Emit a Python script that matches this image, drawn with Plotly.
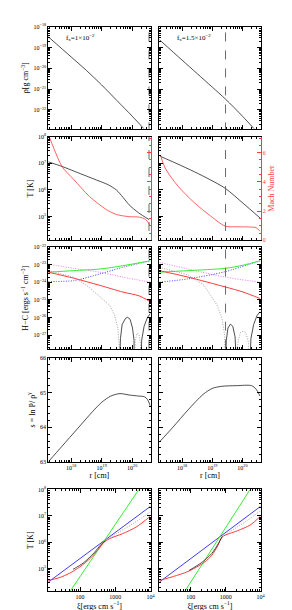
import numpy as np
import plotly.graph_objects as go

# ---------------- DATA (log10 values) ----------------
# Row 1: density vs radius
rho_r_left = [17.25, 18.0, 18.5, 19.0, 19.5, 20.0, 20.38]
rho_left = [-18.48, -19.45, -20.1, -20.8, -21.55, -22.3, -22.9]
rho_r_right = [17.25, 18.0, 18.5, 19.0, 19.44, 20.0, 20.38]
rho_right = [-18.62, -19.6, -20.25, -20.9, -21.48, -22.3, -22.9]

# Row 2: temperature (log10) and Mach number vs radius
T_r_left = [17.25, 17.7, 18.1, 18.5, 18.83, 19.2, 19.48, 19.7, 19.9, 20.2, 20.55]
T_left = [7.05, 6.88, 6.7, 6.52, 6.37, 6.2, 6.0, 5.72, 5.44, 5.15, 4.89]
T_r_right = [17.28, 17.8, 18.41, 18.95, 19.43, 20.02, 20.58]
T_right = [7.26, 7.0, 6.68, 6.37, 6.06, 5.5, 4.95]
mach_r_left = [17.28, 17.43, 17.7, 18.09, 18.6, 19.15, 19.48, 19.9, 20.23, 20.44, 20.6]
mach_left = [7.1, 6.3, 5.05, 4.15, 3.0, 2.11, 1.77, 1.62, 1.59, 1.43, 0.97]
mach_r_right = [17.28, 17.44, 17.87, 18.41, 18.95, 19.43, 19.81, 20.24, 20.45, 20.58]
mach_right = [5.86, 4.95, 3.7, 2.57, 1.66, 0.97, 0.93, 0.91, 0.87, 0.63]

# Row 3: heating / cooling rates (log10)
hc_green_r_left = [17.25, 18.08, 18.94, 19.69, 20.6]
hc_green_left = [-23.42, -23.33, -23.24, -23.05, -22.77]
hc_mag_r_left = [17.25, 18.08, 18.94, 19.69, 20.6]
hc_mag_left = [-22.96, -23.2, -23.42, -23.7, -23.99]
hc_blue_r_left = [17.25, 18.08, 18.94, 19.69, 20.6]
hc_blue_left = [-23.95, -23.9, -23.52, -23.14, -22.77]
hc_red_r_left = [17.25, 18.08, 18.94, 19.69, 20.23, 20.6]
hc_red_left = [-23.42, -23.76, -24.17, -24.55, -24.77, -25.11]
hc_net_r_left = [17.25, 18.08, 18.51, 18.94, 19.26, 19.42, 19.53, 19.58, 19.6]
hc_net_left = [-23.33, -23.7, -24.17, -24.83, -25.3, -25.86, -26.6, -27.7, -29.0]
hc_arch1_r_left = [19.58, 19.615, 19.67, 19.78, 19.85, 19.93, 20.01, 20.06, 20.07]
hc_arch1_left = [-29.0, -27.2, -26.4, -26.05, -25.99, -26.1, -26.6, -27.3, -29.0]
hc_arch2_r_left = [20.07, 20.1, 20.14, 20.19, 20.23, 20.27, 20.28]
hc_arch2_left = [-29.0, -27.4, -26.95, -26.89, -27.0, -27.5, -29.0]
hc_arch3_r_left = [20.28, 20.31, 20.39, 20.5, 20.6]
hc_arch3_left = [-29.0, -27.3, -26.5, -26.0, -25.76]

hc_green_r_right = [17.25, 18.2, 19.43, 20.02, 20.58]
hc_green_right = [-23.42, -23.33, -23.2, -23.02, -22.77]
hc_mag_r_right = [17.25, 18.2, 19.43, 20.58]
hc_mag_right = [-22.86, -23.24, -23.7, -23.99]
hc_blue_r_right = [17.25, 18.2, 19.43, 20.58]
hc_blue_right = [-23.99, -23.8, -23.39, -22.77]
hc_red_r_right = [17.25, 18.2, 19.43, 20.02, 20.58]
hc_red_right = [-23.33, -23.7, -24.26, -24.55, -24.92]
hc_net_r_right = [17.25, 18.2, 18.73, 19.16, 19.32, 19.41, 19.43]
hc_net_right = [-23.14, -23.57, -24.17, -25.3, -26.04, -27.0, -29.0]
hc_arch1_r_right = [19.43, 19.465, 19.52, 19.6, 19.68, 19.755, 19.81]
hc_arch1_right = [-29.0, -27.3, -26.6, -26.38, -26.5, -27.1, -29.0]
hc_arch2_r_right = [19.81, 19.85, 19.935, 20.02, 20.11, 20.195, 20.24]
hc_arch2_right = [-29.0, -27.4, -26.85, -26.79, -26.85, -27.4, -29.0]
hc_arch3_r_right = [20.24, 20.28, 20.37, 20.48, 20.58]
hc_arch3_right = [-29.0, -27.2, -26.4, -25.9, -25.67]

# Row 4: entropy
s_r_left = [17.25, 17.7, 18.2, 18.7, 19.0, 19.3, 19.6, 19.9, 20.2, 20.4, 20.5, 20.6]
s_left = [63.0, 63.45, 63.95, 64.45, 64.72, 64.9, 64.97, 64.93, 64.9, 64.88, 64.8, 64.6]
s_r_right = [17.25, 17.7, 18.2, 18.7, 19.0, 19.3, 19.8, 20.3, 20.45, 20.58]
s_right = [63.57, 64.0, 64.5, 64.95, 65.12, 65.18, 65.2, 65.2, 65.1, 64.9]

# Row 5: T vs ionisation parameter (log10)
xi_red_left = [1.1, 1.4, 1.7, 2.0, 2.3, 2.5, 2.7, 2.9, 3.2, 3.6, 4.0]
Txi_red_left = [4.55, 4.65, 4.82, 5.07, 5.4, 5.7, 6.02, 6.17, 6.32, 6.58, 6.99]
xi_blk_left = [1.8, 2.1, 2.4, 2.6, 2.72]
Txi_blk_left = [4.97, 5.22, 5.6, 5.92, 6.06]
xi_gry_left = [2.72, 3.0, 3.5, 4.0]
Txi_gry_left = [6.06, 6.3, 6.7, 7.15]
xi_blue_left = [1.1, 4.0]
Txi_blue_left = [4.49, 7.36]
xi_green_left = [1.72, 3.67]
Txi_green_left = [4.14, 8.0]

xi_red_right = [1.1, 1.5, 1.92, 2.39, 2.6, 2.77, 2.9, 3.33, 3.7, 4.0]
Txi_red_right = [4.55, 4.7, 4.89, 5.24, 5.5, 5.86, 6.2, 6.43, 6.65, 6.99]
xi_blk_right = [1.95, 2.3, 2.6, 2.8, 2.9]
Txi_blk_right = [4.93, 5.22, 5.57, 5.97, 6.22]
xi_gry_right = [2.9, 3.3, 3.7, 4.0]
Txi_gry_right = [6.22, 6.55, 6.9, 7.2]
xi_blue_right = [1.1, 4.0]
Txi_blue_right = [4.49, 7.36]
xi_green_right = [1.83, 3.70]
Txi_green_right = [4.14, 8.0]

# sonic-point / marker radii (log10 r)
r_dash_left = 20.55
r_dash_right = 19.44

panel_labels = ["f<sub>x</sub>=1×10<sup>−2</sup>", "f<sub>x</sub>=1.5×10<sup>−2</sup>"]

# ---------------- LAYOUT ----------------
W, H = 292, 610
FONT = "Liberation Serif, DejaVu Serif, serif"
xpx = [(41, 145), (154, 257)]
ypx = [(15, 118), (126, 231), (238, 341), (350, 455), (483, 586)]
xdom = [[a / W, b / W] for a, b in xpx]
ydom = [[1 - b / H, 1 - t / H] for t, b in ypx]

r_range = [17.25, 20.6]
xi_range = [1.1, 4.0]
y_ranges = [[-22.9, -18.0], [4.11, 8.0], [-27.8, -22.0], [63, 66], [4.14, 8.0]]

RED = "#ff3b3b"
GREEN = "#33ee33"
BLUE = "#3b3bff"
MAG = "#f070f0"
GRAY = "#8a8a8a"
BLK = "#222222"
LW = 0.8

fig = go.Figure()


def P(v):
    return [10.0 ** t for t in v]


def ax(row, col):
    n = 2 * row + col + 1
    return ("x" if n == 1 else f"x{n}"), ("y" if n == 1 else f"y{n}")


def add(row, col, xs, ys, color, dash="solid", width=LW, logy=True, yaxis=None, smooth=True):
    xa, ya = ax(row, col)
    line = dict(color=color, width=width, dash=dash)
    if smooth:
        line.update(shape="spline", smoothing=0.8)
    fig.add_trace(go.Scatter(
        x=P(xs), y=(P(ys) if logy else ys), mode="lines", line=line,
        xaxis=xa, yaxis=(yaxis or ya), showlegend=False, hoverinfo="skip"))


def vline(row, col, r, yr):
    add(row, col, [r, r], [yr[0] - 1, yr[1] + 1], "#6a6a6a", dash="dash", width=1.0, smooth=False)


# Row 1
add(0, 0, rho_r_left, rho_left, BLK)
add(0, 1, rho_r_right, rho_right, BLK)
vline(0, 0, r_dash_left, y_ranges[0])
vline(0, 1, r_dash_right, y_ranges[0])

# Row 2
add(1, 0, T_r_left, T_left, BLK)
add(1, 1, T_r_right, T_right, BLK)
vline(1, 0, r_dash_left, y_ranges[1])
vline(1, 1, r_dash_right, y_ranges[1])
for xs, ys, xa, ya in [(mach_r_left, mach_left, "x3", "y11"), (mach_r_right, mach_right, "x4", "y12")]:
    fig.add_trace(go.Scatter(x=P(xs), y=ys, mode="lines",
                             line=dict(color=RED, width=LW, shape="spline", smoothing=0.8),
                             xaxis=xa, yaxis=ya, showlegend=False, hoverinfo="skip"))

# Row 3
for col, d in enumerate([
    (hc_green_r_left, hc_green_left, hc_mag_r_left, hc_mag_left, hc_blue_r_left, hc_blue_left,
     hc_red_r_left, hc_red_left, hc_net_r_left, hc_net_left, hc_arch1_r_left, hc_arch1_left,
     hc_arch2_r_left, hc_arch2_left, hc_arch3_r_left, hc_arch3_left),
    (hc_green_r_right, hc_green_right, hc_mag_r_right, hc_mag_right, hc_blue_r_right, hc_blue_right,
     hc_red_r_right, hc_red_right, hc_net_r_right, hc_net_right, hc_arch1_r_right, hc_arch1_right,
     hc_arch2_r_right, hc_arch2_right, hc_arch3_r_right, hc_arch3_right)]):
    add(2, col, d[2], d[3], MAG, dash="1px,1.5px", width=1.0)
    add(2, col, d[4], d[5], BLUE, dash="1px,1.5px", width=1.0)
    add(2, col, d[0], d[1], GREEN, width=1.0)
    add(2, col, d[6], d[7], RED, width=1.0)
    add(2, col, d[8], d[9], GRAY, dash="1px,1.5px", width=0.8, smooth=False)
    add(2, col, d[10], d[11], BLK, width=0.8, smooth=False)
    add(2, col, d[12], d[13], GRAY, dash="1px,1.5px", width=0.8, smooth=False)
    add(2, col, d[14], d[15], BLK, width=0.8, smooth=False)
vline(2, 0, r_dash_left, y_ranges[2])
vline(2, 1, r_dash_right, y_ranges[2])

# Row 4
add(3, 0, s_r_left, s_left, BLK, logy=False)
add(3, 1, s_r_right, s_right, BLK, logy=False)

# Row 5
for col, d in enumerate([
    (xi_blue_left, Txi_blue_left, xi_green_left, Txi_green_left, xi_red_left, Txi_red_left,
     xi_gry_left, Txi_gry_left, xi_blk_left, Txi_blk_left),
    (xi_blue_right, Txi_blue_right, xi_green_right, Txi_green_right, xi_red_right, Txi_red_right,
     xi_gry_right, Txi_gry_right, xi_blk_right, Txi_blk_right)]):
    add(4, col, d[0], d[1], BLUE, width=1.0, smooth=False)
    add(4, col, d[2], d[3], GREEN, width=1.0, smooth=False)
    add(4, col, d[4], d[5], RED, width=1.0)
    add(4, col, d[6], d[7], GRAY, dash="1px,1.5px", width=0.8)
    add(4, col, d[8], d[9], BLK, width=0.8)


def log_minor(lo, hi):
    vals = []
    for k in range(int(np.floor(lo)), int(np.ceil(hi)) + 1):
        for m in range(2, 10):
            v = m * 10.0 ** k
            if lo <= np.log10(v) <= hi:
                vals.append(v)
    return vals


def sup(k):
    return "10<sup>" + str(k).replace("-", "−") + "</sup>"


tickfont = dict(family=FONT, size=6, color="black")
titlefont = dict(family=FONT, size=8, color="black")

y_titles = ["ρ[g cm<sup>−3</sup>]", "T [K]", "H−C [ergs s<sup>−1</sup> cm<sup>−3</sup>]",
            "s = ln P/ ρ<sup>γ</sup>", "T [K]"]

layout = dict(width=W, height=H, margin=dict(l=0, r=0, t=0, b=0),
              paper_bgcolor="white", plot_bgcolor="white",
              font=dict(family=FONT, size=7, color="black"))

for row in range(5):
    for col in range(2):
        n = 2 * row + col + 1
        xk = "xaxis" if n == 1 else f"xaxis{n}"
        yk = "yaxis" if n == 1 else f"yaxis{n}"
        xa, ya = ax(row, col)
        if row < 4:
            xr = r_range
            xt = [10.0 ** k for k in (18, 19, 20)]
            xtt = [sup(k) for k in (18, 19, 20)]
        else:
            xr = xi_range
            xt = [100, 1000, 10000]
            xtt = ["100", "1000", "10<sup>4</sup>"]
        xdict = dict(type="log", range=xr, domain=xdom[col], anchor=ya,
                     showline=True, linecolor="black", linewidth=1, mirror="ticks",
                     ticks="inside", ticklen=4, tickwidth=0.8, tickcolor="black",
                     tickvals=xt, ticktext=xtt, showticklabels=(row >= 3),
                     tickfont=tickfont, showgrid=False, zeroline=False,
                     minor=dict(ticks="inside", ticklen=2, tickwidth=0.6, tickcolor="black",
                                tickvals=log_minor(*xr), showgrid=False))
        if row == 3:
            xdict["title"] = dict(text="r [cm]", font=titlefont, standoff=2)
        if row == 4:
            xdict["title"] = dict(text="ξ[ergs cm s<sup>−1</sup>]", font=titlefont, standoff=2)
        layout[xk] = xdict
        yr = y_ranges[row]
        if row == 3:
            ydict = dict(type="linear", range=yr, tickvals=[63, 64, 65, 66],
                         ticktext=["63", "64", "65", "66"],
                         minor=dict(ticks="inside", ticklen=2, tickwidth=0.6, tickcolor="black",
                                    dtick=0.2, showgrid=False))
        else:
            ks = list(range(int(np.ceil(yr[0])), int(np.floor(yr[1])) + 1))
            ydict = dict(type="log", range=yr, tickvals=[10.0 ** k for k in ks],
                         ticktext=[sup(k) for k in ks],
                         minor=dict(ticks="inside", ticklen=2, tickwidth=0.6, tickcolor="black",
                                    tickvals=log_minor(*yr), showgrid=False))
        ydict.update(domain=ydom[row], anchor=xa, showline=True, linecolor="black", linewidth=1,
                     mirror=("ticks" if row != 1 else False),
                     ticks="inside", ticklen=4, tickwidth=0.8, tickcolor="black",
                     showticklabels=(col == 0), tickfont=tickfont,
                     showgrid=False, zeroline=False)
        if col == 0:
            ydict["title"] = dict(text=y_titles[row], font=titlefont, standoff=3)
        layout[yk] = ydict

# Mach number axes (row 2)
for n, xa, lab in [(11, "x3", False), (12, "x4", True)]:
    d = dict(overlaying=("y3" if n == 11 else "y4"), anchor=xa, side="right",
             range=[0, 7.1], tickvals=[0, 2, 4, 6], ticktext=["0", "2", "4", "6"],
             showline=True, linecolor=RED, linewidth=1,
             ticks="inside", ticklen=4, tickwidth=0.8, tickcolor=RED,
             minor=dict(ticks="inside", ticklen=2, tickwidth=0.6, tickcolor=RED,
                        dtick=0.5, showgrid=False),
             showticklabels=lab, tickfont=dict(family=FONT, size=6, color=RED),
             showgrid=False, zeroline=False)
    if lab:
        d["title"] = dict(text="Mach Number", font=dict(family=FONT, size=8, color=RED), standoff=3)
    layout[f"yaxis{n}"] = d

annotations = []
for col in range(2):
    xa = "x" if col == 0 else "x2"
    ya = "y" if col == 0 else "y2"
    annotations.append(dict(text=panel_labels[col], xref=f"{xa} domain", yref=f"{ya} domain",
                            x=0.15, y=0.9, xanchor="left", yanchor="middle", showarrow=False,
                            font=dict(family=FONT, size=7, color="black")))
layout["annotations"] = annotations

fig.update_layout(**layout)
fig.write_html("out.html")
